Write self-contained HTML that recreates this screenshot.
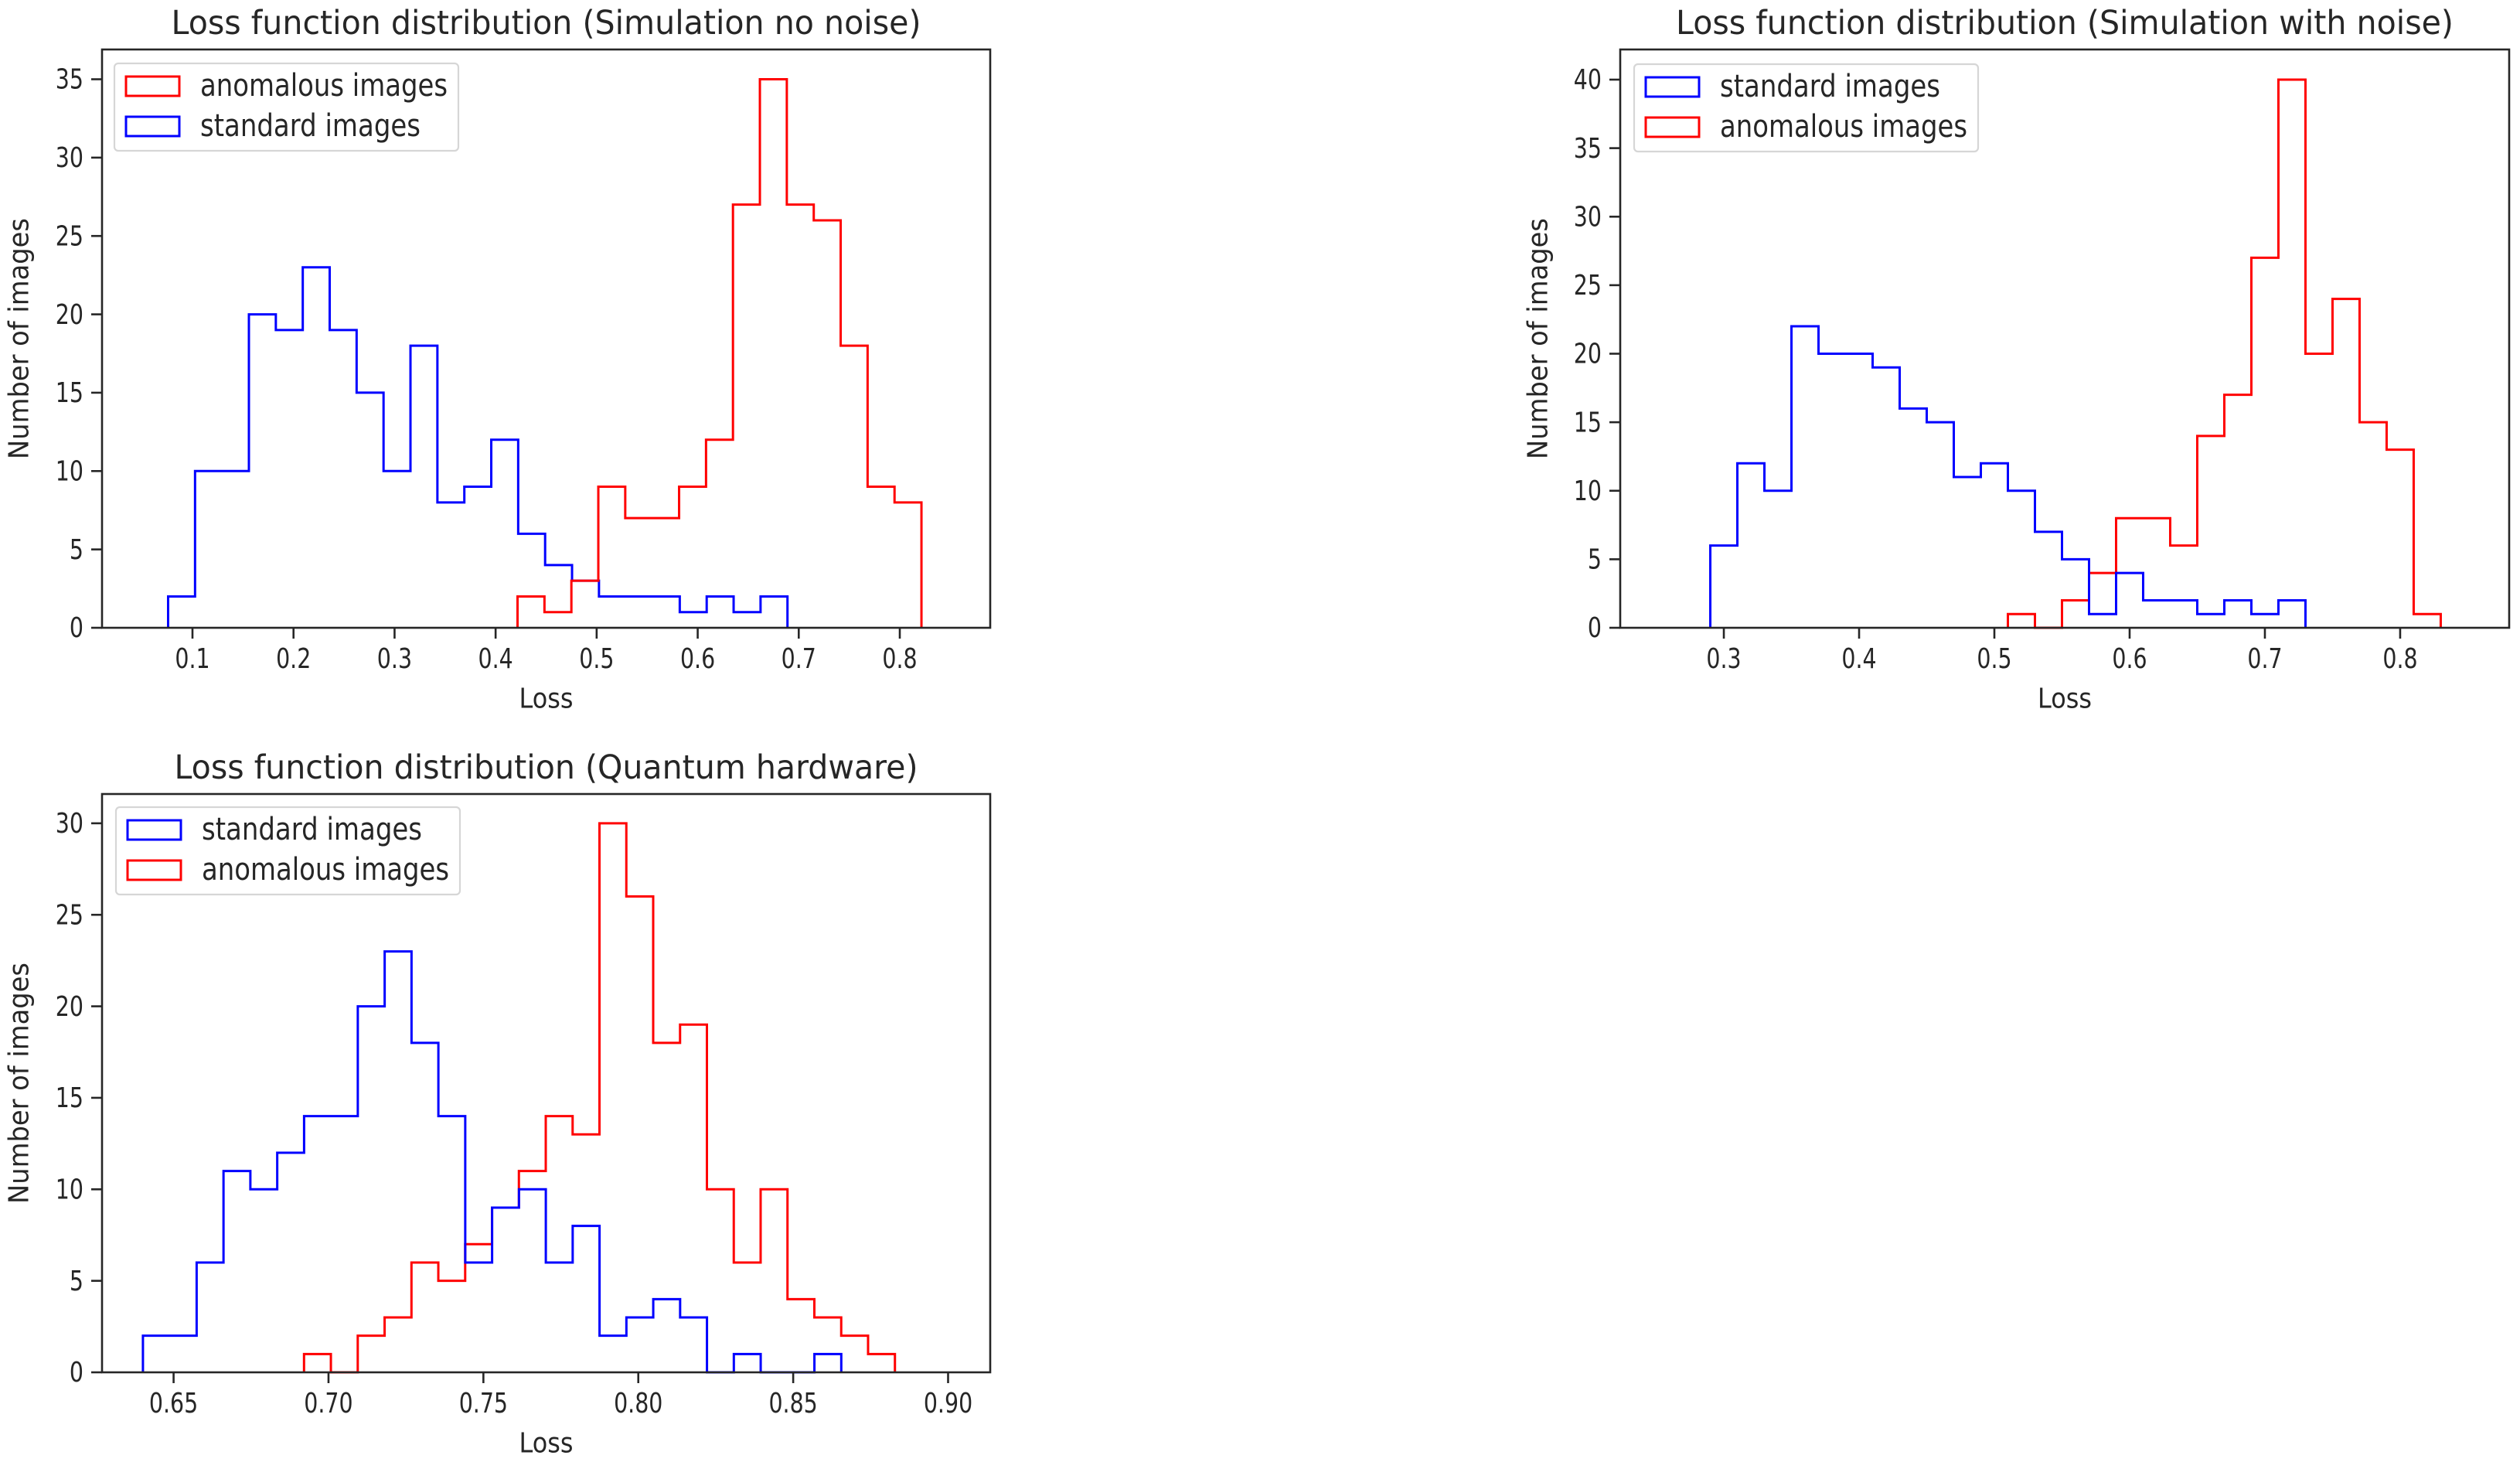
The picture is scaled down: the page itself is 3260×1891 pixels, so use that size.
<!DOCTYPE html>
<html><head><meta charset="utf-8"><style>
html,body{margin:0;padding:0;background:#fff;}
svg{display:block;}
text{font-family:"DejaVu Sans","Liberation Sans",sans-serif;fill:#262626;}
</style></head><body>
<svg id="fig" width="3260" height="1891" viewBox="0 0 3260 1891" xmlns="http://www.w3.org/2000/svg"></svg>
<script>
// ---- Panel 1: Simulation no noise ----
const p1BinStart = 0.0759, p1BinWidth = 0.02665;
const p1Blue = [2,10,10,20,19,23,19,15,10,18,8,9,12,6,4,3,2,2,2,1,2,1,2];
const p1RedStart = 0.4217;
const p1Red = [2,1,3,9,7,7,9,12,27,35,27,26,18,9,8];
const p1XTicks = [0.1,0.2,0.3,0.4,0.5,0.6,0.7,0.8];
const p1XTickLabels = ["0.1","0.2","0.3","0.4","0.5","0.6","0.7","0.8"];
const p1YTicks = [0,5,10,15,20,25,30,35];
// ---- Panel 2: Simulation with noise ----
const p2BlueStart = 0.29, p2BinWidth = 0.02;
const p2Blue = [6,12,10,22,20,20,19,16,15,11,12,10,7,5,1,4,2,2,1,2,1,2];
const p2RedStart = 0.51;
const p2Red = [1,0,2,4,8,8,6,14,17,27,40,20,24,15,13,1];
const p2XTicks = [0.3,0.4,0.5,0.6,0.7,0.8];
const p2XTickLabels = ["0.3","0.4","0.5","0.6","0.7","0.8"];
const p2YTicks = [0,5,10,15,20,25,30,35,40];
// ---- Panel 3: Quantum hardware ----
const p3BlueStart = 0.6401, p3BinWidth = 0.00867;
const p3Blue = [2,2,6,11,10,12,14,14,20,23,18,14,6,9,10,6,8,2,3,4,3,0,1,0,0,1];
const p3RedStart = 0.6921;
const p3Red = [1,0,2,3,6,5,7,9,11,14,13,30,26,18,19,10,6,10,4,3,2,1];
const p3XTicks = [0.65,0.70,0.75,0.80,0.85,0.90];
const p3XTickLabels = ["0.65","0.70","0.75","0.80","0.85","0.90"];
const p3YTicks = [0,5,10,15,20,25,30];

const NS = "http://www.w3.org/2000/svg";
const svg = document.getElementById('fig');
const SX = 0.79;

function mk(tag, attrs, parent){
  const e = document.createElementNS(NS, tag);
  for (const k in attrs) e.setAttribute(k, attrs[k]);
  parent.appendChild(e);
  return e;
}
function txt(parent, str, x, y, size, anchor, width, rot){
  const g = mk('g', {transform: `translate(${x},${y})` + (rot ? ` rotate(${rot})` : '')}, parent);
  const t = mk('text', {x:0, y:0, 'font-size':size, 'text-anchor':anchor, 'dominant-baseline':'central'}, g);
  if (width) { t.setAttribute('textLength', width); t.setAttribute('lengthAdjust','spacingAndGlyphs'); }
  else g.setAttribute('transform', g.getAttribute('transform') + ` scale(${SX},1)`);
  t.textContent = str;
  return t;
}

function panel(cfg){
  const g = mk('g', {}, svg);
  
  
  const L=cfg.L, R=cfg.R, T=cfg.T, B=cfg.B;
  const xs = v => L + (v - cfg.xmin)/(cfg.xmax - cfg.xmin)*(R-L);
  const ys = v => B - v/cfg.ymax*(B-T);

  cfg.series.forEach(s => {
    let d = `M${xs(s.start)},${ys(0)}`;
    s.values.forEach((v,i) => {
      const x0 = xs(s.start + i*s.width), x1 = xs(s.start + (i+1)*s.width);
      d += ` L${x0},${ys(v)} L${x1},${ys(v)}`;
    });
    d += ` L${xs(s.start + s.values.length*s.width)},${ys(0)}`;
    const p = mk('path', {d, fill:'none', stroke:s.color, 'stroke-width':3, 'stroke-linejoin':'miter'}, g);
    
    
  });

  const fr = mk('rect', {x:L, y:T, width:R-L, height:B-T, fill:'none', stroke:'#262626', 'stroke-width':2.6}, g);
  
  

  cfg.xticks.forEach((v,i) => {
    const x = xs(v);
    mk('line', {x1:x, y1:B, x2:x, y2:B+14, stroke:'#262626', 'stroke-width':2.6}, g);
    const t = txt(g, cfg.xlabels[i], x, B+40, 36, 'middle');
    
    
  });
  cfg.yticks.forEach(v => {
    const y = ys(v);
    mk('line', {x1:L-14, y1:y, x2:L, y2:y, stroke:'#262626', 'stroke-width':2.6}, g);
    const t = txt(g, String(v), L-24, y, 36, 'end');
    
    
  });

  const tt = txt(g, cfg.title, (L+R)/2, T-34, 43, 'middle', cfg.titleW);
  
  
  const xl = txt(g, 'Loss', (L+R)/2, B+92, 36, 'middle', 70);
  
  
  const yl = txt(g, 'Number of images', cfg.ylabX, (T+B)/2, 36, 'middle', 312, -90);
  
  

  const lg = mk('g', {}, g);
  
  
  const lx = cfg.legX, ly = cfg.legY;
  mk('rect', {x:lx, y:ly, width:cfg.legW, height:113, rx:5, fill:'#fff', 'fill-opacity':0.8, stroke:'#d6d6d6', 'stroke-width':2.2}, lg);
  cfg.legend.forEach((e,i) => {
    const cy = ly + 29 + i*52;
    const ent = mk('g', {}, lg);
    
    
    mk('rect', {x:lx+15, y:cy-12, width:69, height:25, fill:'none', stroke:e.color, 'stroke-width':3}, ent);
    txt(ent, e.label, lx+111, cy, 40, 'start', e.w);
  });
}

panel({name:'panel-simulation-no-noise', L:132, R:1281, T:64, B:812, xmin:0.0105, xmax:0.8895, ymax:36.9,
  xticks:p1XTicks, xlabels:p1XTickLabels, yticks:p1YTicks,
  title:'Loss function distribution (Simulation no noise)', titleW:970, ylabX:25,
  series:[{id:'standard-images-hist', start:p1BinStart, width:p1BinWidth, values:p1Blue, color:'#0000ff'},
          {id:'anomalous-images-hist', start:p1RedStart, width:p1BinWidth, values:p1Red, color:'#ff0000'}],
  legX:148, legY:82, legW:445,
  legend:[{label:'anomalous images', color:'#ff0000', w:320},{label:'standard images', color:'#0000ff', w:285}]});

panel({name:'panel-simulation-with-noise', L:2096, R:3246, T:64, B:812, xmin:0.2234, xmax:0.8806, ymax:42.2,
  xticks:p2XTicks, xlabels:p2XTickLabels, yticks:p2YTicks,
  title:'Loss function distribution (Simulation with noise)', titleW:1006, ylabX:1990,
  series:[{id:'anomalous-images-hist', start:p2RedStart, width:p2BinWidth, values:p2Red, color:'#ff0000'},
          {id:'standard-images-hist', start:p2BlueStart, width:p2BinWidth, values:p2Blue, color:'#0000ff'}],
  legX:2114, legY:83, legW:445,
  legend:[{label:'standard images', color:'#0000ff', w:285},{label:'anomalous images', color:'#ff0000', w:320}]});

panel({name:'panel-quantum-hardware', L:132, R:1281, T:1027, B:1775, xmin:0.6269, xmax:0.9136, ymax:31.6,
  xticks:p3XTicks, xlabels:p3XTickLabels, yticks:p3YTicks,
  title:'Loss function distribution (Quantum hardware)', titleW:962, ylabX:25,
  series:[{id:'anomalous-images-hist', start:p3RedStart, width:p3BinWidth, values:p3Red, color:'#ff0000'},
          {id:'standard-images-hist', start:p3BlueStart, width:p3BinWidth, values:p3Blue, color:'#0000ff'}],
  legX:150, legY:1044, legW:445,
  legend:[{label:'standard images', color:'#0000ff', w:285},{label:'anomalous images', color:'#ff0000', w:320}]});
</script>
</body></html>
